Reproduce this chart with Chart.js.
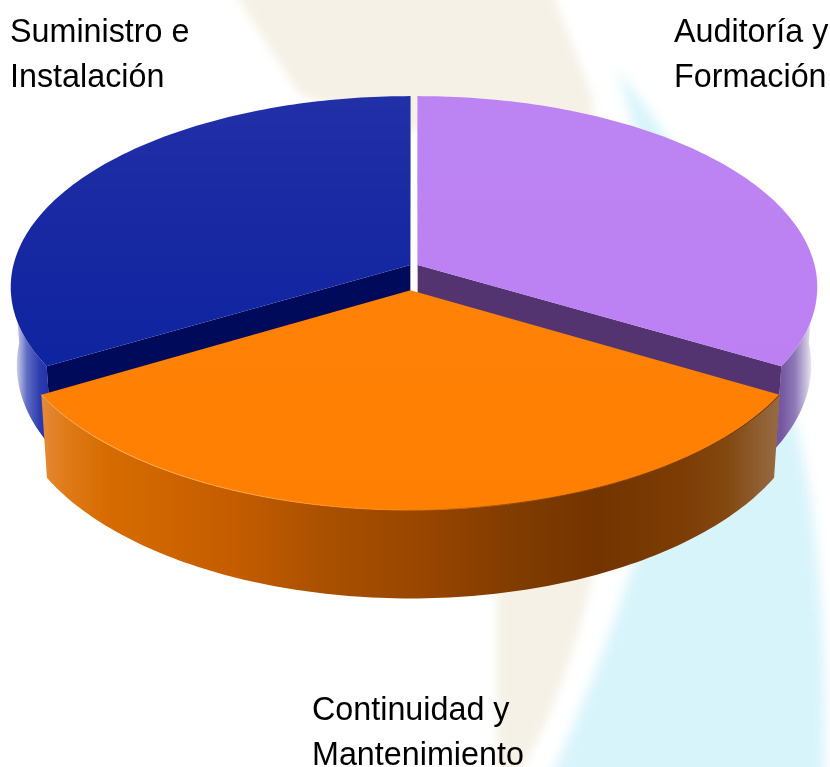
<!DOCTYPE html>
<html>
<head>
<meta charset="utf-8">
<style>
    html, body { margin: 0; padding: 0; background: #fff; }
    #wrap { position: relative; width: 830px; height: 767px; }
</style>
</head>
<body>
<div id="wrap"><canvas id="servicesChart" width="830" height="767"></canvas></div>
<script src="https://cdn.jsdelivr.net/npm/chart.js@4/dist/chart.umd.js"></script>
<script>
// slices go clockwise from 12 o'clock
const labels = [['Auditoría y', 'Formación'], ['Continuidad y', 'Mantenimiento'], ['Suministro e', 'Instalación']];
const values = [33.45, 33.1, 33.45];
const sliceOffsets = [4, 45, 4];
const sliceShifts = [[0, 0], [-3.5, 0.5], [0, 0]];
const labelPlaces = [[674, 42], [312, 720], [10, 42]];

// Chart.js only does flat pies, so the arcs it lays out get projected here
const CX = 414, CY = 266, RX = 397, RY = 188.5, K = 0.115, DEPTH = 77, SHRINK = 0.985;

const topColors = [
    [[0, '#bc84f2'], [1, '#bc80f2']],
    [[0, '#ff8206'], [1, '#ff7f02']],
    [[0, '#2230a8'], [0.5, '#1728a2'], [1, '#0f249f']],
];
const innerColors = ['#543470', null, '#000a5a'];
const wallColors = [
    [[770, '#75569f'], [781, '#75569f'], [795, '#8f7ab8'], [806, '#c8bfdc'], [814, '#f8f8fc']],
    [[42, '#e48c3c'], [70, '#e07a18'], [110, '#d66c00'], [240, '#c45c00'], [330, '#a85000'], [430, '#984500'],
     [520, '#803c00'], [600, '#743400'], [680, '#7c3c04'], [730, '#82480f'], [778, '#966840']],
    [[12, '#f4f5fb'], [17, '#c8cce8'], [27, '#5f6cc4'], [40, '#2c3bad'], [50, '#2030a8']],
];
const rimStops = [[0, '#ffb36b'], [0.3, '#ffa040'], [0.5, '#ff8204'], [0.65, '#8a4200'], [1, '#6a3000']];

const project = (u, v, low) => {
    const w = 1 - K * v;
    let x = CX + RX * u / w;
    let y = CY + RY * v / w;
    if (low) {
        x = CX + (x - CX) * SHRINK;
        y = y + DEPTH / w;
    }
    return [x, y];
};

const sliceCenter = (arc) => {
    const mid = (arc.startAngle + arc.endAngle) / 2;
    const d = arc.options.offset / arc.outerRadius;
    return [Math.cos(mid) * d, Math.sin(mid) * d];
};

const rimPoints = (arc, low) => {
    const [du, dv] = sliceCenter(arc);
    const pts = [];
    const steps = 120;
    for (let i = 0; i <= steps; i++) {
        const a = arc.startAngle + (arc.endAngle - arc.startAngle) * i / steps;
        pts.push(project(du + Math.cos(a), dv + Math.sin(a), low));
    }
    return pts;
};

const addPoly = (ctx, pts) => {
    pts.forEach((p, i) => (i ? ctx.lineTo(p[0], p[1]) : ctx.moveTo(p[0], p[1])));
    ctx.closePath();
};

const fillPath = (ctx, pts, style) => {
    ctx.beginPath();
    addPoly(ctx, pts);
    ctx.fillStyle = style;
    ctx.fill();
};

const makeGradient = (ctx, x0, y0, x1, y1, stops) => {
    const g = ctx.createLinearGradient(x0, y0, x1, y1);
    stops.forEach((s) => g.addColorStop(s[0], s[1]));
    return g;
};

const wallGradient = (ctx, stops) => {
    const x0 = stops[0][0];
    const x1 = stops[stops.length - 1][0];
    return makeGradient(ctx, x0, 0, x1, 0, stops.map((s) => [(s[0] - x0) / (x1 - x0), s[1]]));
};

const drawSliceBody = (ctx, arc, i) => {
    const [du, dv] = sliceCenter(arc);
    const top = rimPoints(arc, false);
    const low = rimPoints(arc, true);

    // outer wall, one path of strips so the far left/right silhouette gets filled
    // strips behind the centre line are skipped, they only show through the gap
    ctx.beginPath();
    for (let s = 0; s < top.length - 1; s++) {
        if (top[s][1] < CY && top[s + 1][1] < CY) continue;
        addPoly(ctx, [top[s], top[s + 1], low[s + 1], low[s]]);
    }
    ctx.fillStyle = wallGradient(ctx, wallColors[i]);
    ctx.fill();

    // faces towards the centre of the pie
    if (innerColors[i]) {
        const c0 = project(du, dv, false);
        const c1 = project(du, dv, true);
        [[top[0], low[0]], [top[top.length - 1], low[low.length - 1]]].forEach((edge) => {
            fillPath(ctx, [c0, edge[0], edge[1], c1], innerColors[i]);
        });
    }
};

const drawSliceTop = (ctx, arc, i) => {
    const [du, dv] = sliceCenter(arc);
    const top = rimPoints(arc, false);
    const ys = top.map((p) => p[1]);
    const c = project(du, dv, false);
    const y0 = Math.min(...ys, c[1]);
    const y1 = Math.max(...ys, c[1]);
    fillPath(ctx, [c].concat(top), makeGradient(ctx, 0, y0, 0, y1, topColors[i]));

    // glossy edge on the front slice
    if (i === 1) {
        ctx.beginPath();
        top.forEach((p, j) => (j ? ctx.lineTo(p[0], p[1]) : ctx.moveTo(p[0], p[1])));
        ctx.strokeStyle = makeGradient(ctx, 40, 0, 780, 0, rimStops);
        ctx.lineWidth = 1;
        ctx.stroke();
    }
};

const pie3d = {
    id: 'pie3d',
    beforeDraw(chart) {
        const ctx = chart.ctx;
        ctx.save();
        ctx.fillStyle = '#ffffff';
        ctx.fillRect(0, 0, 830, 767);
        // washed out logo behind the pie
        ctx.filter = 'blur(4px)';
        ctx.fillStyle = '#f5f1e6';
        ctx.beginPath();
        ctx.moveTo(226, -20);
        ctx.lineTo(300, 95);
        ctx.lineTo(430, 135);
        ctx.lineTo(497, 300);
        ctx.lineTo(497, 790);
        ctx.lineTo(510, 790);
        ctx.quadraticCurveTo(565, 700, 592, 580);
        ctx.lineTo(600, 200);
        ctx.lineTo(592, 95);
        ctx.lineTo(555, 0);
        ctx.lineTo(550, -20);
        ctx.closePath();
        ctx.fill();
        ctx.filter = 'blur(6px)';
        ctx.fillStyle = '#d8f4fb';
        ctx.beginPath();
        ctx.moveTo(617, 70);
        ctx.quadraticCurveTo(660, 200, 670, 400);
        ctx.quadraticCurveTo(650, 560, 545, 790);
        ctx.lineTo(824, 790);
        ctx.quadraticCurveTo(830, 560, 795, 420);
        ctx.quadraticCurveTo(720, 190, 617, 70);
        ctx.closePath();
        ctx.fill();
        ctx.restore();
    },
    beforeDatasetsDraw(chart) {
        const ctx = chart.ctx;
        const arcs = chart.getDatasetMeta(0).data;
        // back slices first, the orange one sits in front of them
        const order = [0, 2, 1];
        order.forEach((i) => {
            ctx.save();
            ctx.translate(sliceShifts[i][0], sliceShifts[i][1]);
            drawSliceBody(ctx, arcs[i], i);
            drawSliceTop(ctx, arcs[i], i);
            ctx.restore();
        });

        ctx.save();
        ctx.fillStyle = '#000000';
        ctx.font = '32.3px "Liberation Sans", Arial, sans-serif';
        ctx.textBaseline = 'alphabetic';
        labels.forEach((lines, i) => {
            lines.forEach((line, j) => {
                ctx.fillText(line, labelPlaces[i][0], labelPlaces[i][1] + j * 45);
            });
        });
        ctx.restore();
        return false;
    },
};

new Chart(document.getElementById('servicesChart').getContext('2d'), {
    type: 'pie',
    data: {
        labels: labels,
        datasets: [{
            label: 'Servicios',
            data: values,
            offset: sliceOffsets,
            borderWidth: 0,
        }],
    },
    options: {
        responsive: false,
        animation: false,
        plugins: { legend: { display: false }, tooltip: { enabled: false } },
    },
    plugins: [pie3d],
});
</script>
</body>
</html>
